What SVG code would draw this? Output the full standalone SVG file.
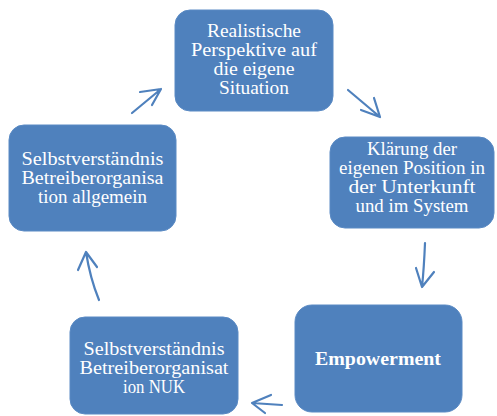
<svg xmlns="http://www.w3.org/2000/svg" width="497" height="416" viewBox="0 0 497 416">
<style>
.box{fill:#4f81bd;stroke:#5a8ac4;stroke-width:1}
.t{font-family:"Liberation Serif","DejaVu Serif",serif;font-size:18px;fill:#ffffff;text-anchor:middle}
.b{font-weight:bold;font-size:18px}
.c{fill:none;stroke:#4f81bd;stroke-width:2.2;stroke-linecap:round;stroke-linejoin:round}
</style>
<rect width="497" height="416" fill="#ffffff"/>
<g id="n1">
<rect class="box" x="175" y="10" width="158" height="101" rx="15"/>
<text class="t" x="254" y="37" textLength="94" lengthAdjust="spacingAndGlyphs">Realistische</text>
<text class="t" x="254" y="56" textLength="126" lengthAdjust="spacingAndGlyphs">Perspektive auf</text>
<text class="t" x="254" y="75" textLength="81" lengthAdjust="spacingAndGlyphs">die eigene</text>
<text class="t" x="254" y="94" textLength="70" lengthAdjust="spacingAndGlyphs">Situation</text>
</g>
<g id="n2">
<rect class="box" x="330" y="137" width="164" height="91" rx="15"/>
<text class="t" x="412" y="155" textLength="90" lengthAdjust="spacingAndGlyphs">Klärung der</text>
<text class="t" x="412" y="174" textLength="146" lengthAdjust="spacingAndGlyphs">eigenen Position in</text>
<text class="t" x="412" y="193" textLength="127" lengthAdjust="spacingAndGlyphs">der Unterkunft</text>
<text class="t" x="412" y="212" textLength="113" lengthAdjust="spacingAndGlyphs">und im System</text>
</g>
<g id="n3">
<rect class="box" x="295" y="305" width="167" height="107" rx="17"/>
<text class="t b" x="378" y="365" textLength="126" lengthAdjust="spacingAndGlyphs">Empowerment</text>
</g>
<g id="n4">
<rect class="box" x="70" y="317" width="168" height="97" rx="15"/>
<text class="t" x="154" y="355" textLength="141" lengthAdjust="spacingAndGlyphs">Selbstverständnis</text>
<text class="t" x="154" y="374" textLength="149" lengthAdjust="spacingAndGlyphs">Betreiberorganisat</text>
<text class="t" x="154" y="393" textLength="62" lengthAdjust="spacingAndGlyphs">ion NUK</text>
</g>
<g id="n5">
<rect class="box" x="9" y="125" width="167" height="106" rx="15"/>
<text class="t" x="92.5" y="165" textLength="142" lengthAdjust="spacingAndGlyphs">Selbstverständnis</text>
<text class="t" x="92.5" y="184" textLength="142" lengthAdjust="spacingAndGlyphs">Betreiberorganisa</text>
<text class="t" x="92.5" y="203" textLength="109" lengthAdjust="spacingAndGlyphs">tion allgemein</text>
</g>
<g id="connectors">
<path class="c" d="M132,113 L161,89 M140,92 L161,89 L152,105"/>
<path class="c" d="M348,90 L380,117 M361,110 L380,117 L374,98"/>
<path class="c" d="M425,243 Q424,268 422,287 M416,268 L422,287 L434,272"/>
<path class="c" d="M282,405 L252,403 M271,395 L252,403 L265,413"/>
<path class="c" d="M99,300 Q90,278 86,252 M78,270 L86,252 L97,267"/>
</g>
</svg>
